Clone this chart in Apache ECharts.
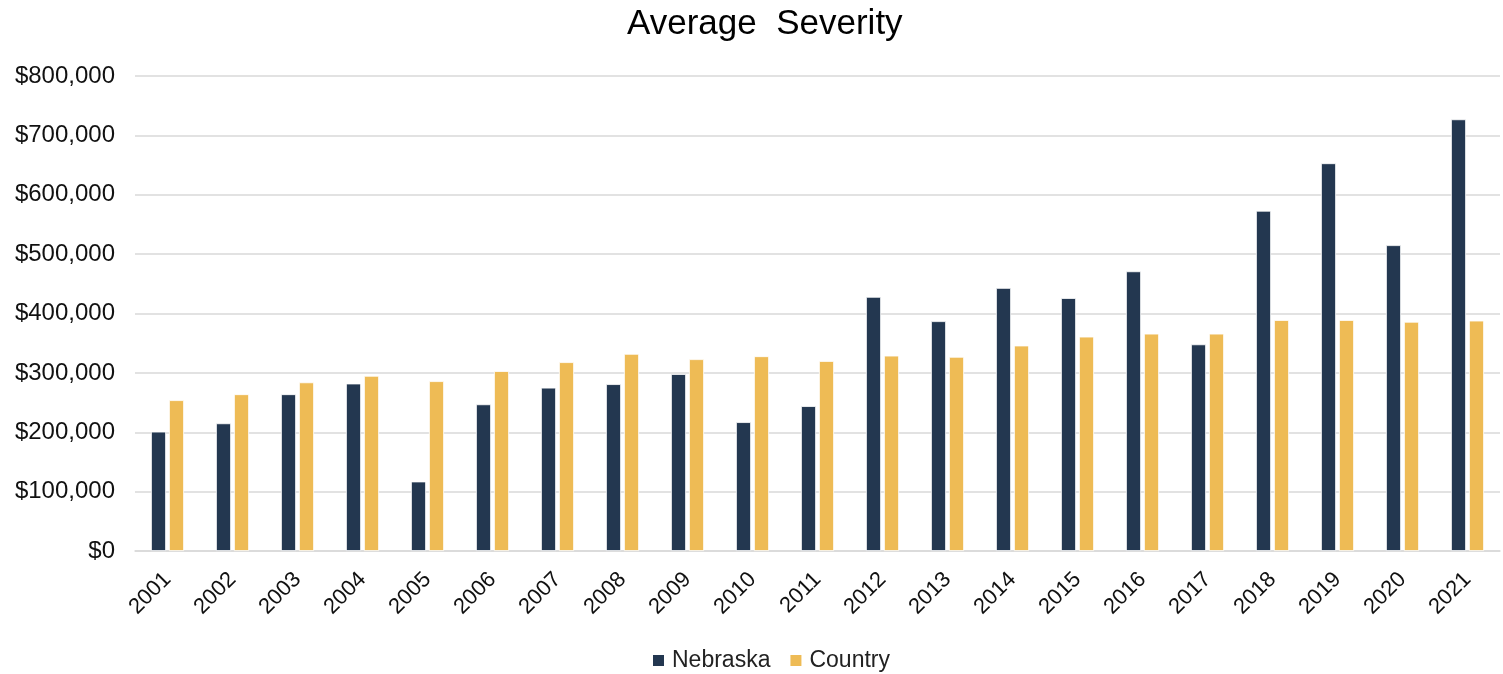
<!DOCTYPE html>
<html>
<head>
<meta charset="utf-8">
<script src="https://cdn.jsdelivr.net/npm/echarts@6/dist/echarts.min.js"></script>
<style>
  html, body { margin: 0; padding: 0; background: #fff; }
  #chart { width: 1503px; height: 674px; }
</style>
</head>
<body>
<div id="chart"></div>
<script>
const years = ['2001','2002','2003','2004','2005','2006','2007','2008','2009','2010','2011',
               '2012','2013','2014','2015','2016','2017','2018','2019','2020','2021'];
const nebraska = [201000, 215000, 264000, 282000, 117000, 247000, 275000, 281000, 298000, 217000, 244000,
                  428000, 387000, 443000, 426000, 471000, 348000, 573000, 653000, 515000, 727000];
const country = [254000, 264000, 284000, 295000, 286000, 303000, 318000, 332000, 323000, 328000, 320000,
                 329000, 327000, 346000, 361000, 366000, 366000, 389000, 389000, 386000, 388000];

const chart = echarts.init(document.getElementById('chart'));
const fontFamily = 'Liberation Sans, Arial, sans-serif';

chart.setOption({
  animation: false,
  title: {
    text: 'Average  Severity',
    left: 622,
    top: 2,
    textStyle: { fontFamily, fontSize: 35, fontWeight: 'normal', color: '#000' }
  },
  legend: {
    bottom: -3,
    left: 648,
    itemWidth: 11,
    itemHeight: 11,
    itemGap: 20,
    icon: 'rect',
    itemStyle: { borderWidth: 0 },
    textStyle: { fontFamily, fontSize: 23, color: '#222', padding: [0, 0, 0, 3] },
    data: ['Nebraska', 'Country']
  },
  grid: { left: 135, right: 3, top: 76, bottom: 123 },
  xAxis: {
    type: 'category',
    data: years,
    axisLine: { lineStyle: { color: '#d9d9d9', width: 1.5 } },
    axisTick: { show: false },
    axisLabel: { rotate: 45, fontFamily, fontSize: 22, color: '#111', margin: 25 }
  },
  yAxis: {
    type: 'value',
    min: 0,
    max: 800000,
    interval: 100000,
    axisLine: { show: false },
    axisTick: { show: false },
    axisLabel: {
      fontFamily, fontSize: 24, color: '#111', margin: 20,
      formatter: v => '$' + v.toLocaleString('en-US')
    },
    splitLine: { lineStyle: { color: '#d9d9d9', width: 1.5 } }
  },
  series: [
    {
      name: 'Nebraska',
      type: 'bar',
      data: nebraska,
      barWidth: 15,
      barGap: '20%',
      itemStyle: { color: '#233750', borderColor: '#fff', borderWidth: 0.8 }
    },
    {
      name: 'Country',
      type: 'bar',
      data: country,
      barWidth: 15,
      itemStyle: { color: '#eebb55', borderColor: '#fff', borderWidth: 0.8 }
    }
  ]
});
</script>
</body>
</html>
